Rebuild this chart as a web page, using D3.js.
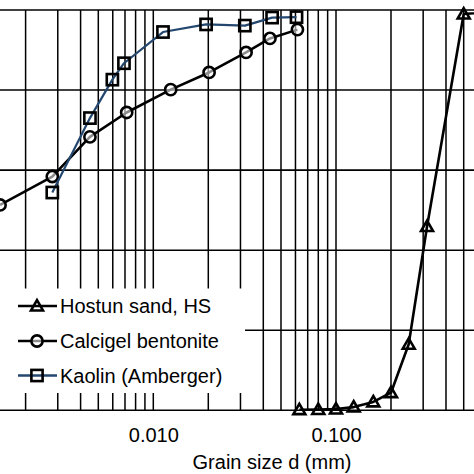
<!DOCTYPE html>
<html><head><meta charset="utf-8">
<script src="https://cdn.jsdelivr.net/npm/d3@7"></script>
<style>
html,body{margin:0;padding:0;background:#fff;overflow:hidden}
svg{display:block}
text{font-family:"Liberation Sans",Arial,sans-serif;fill:#000}
</style></head>
<body>
<svg id="c" width="474" height="474"></svg>
<script>
// ---- data ----
const sandD = [0.063, 0.08, 0.1, 0.125, 0.16, 0.2, 0.25, 0.315, 0.5, 1.0];
const sandP = [0.15, 0.2, 0.3, 0.8, 2.1, 4.4, 16.5, 45.9, 99.0, 100];
const calD  = [0.00145, 0.0028, 0.0045, 0.00715, 0.01245, 0.0202, 0.0322, 0.0435, 0.0615];
const calP  = [51.3, 58.4, 68.3, 74.4, 80.1, 84.4, 89.4, 92.9, 95.1];
const kaoD  = [0.0028, 0.0045, 0.00597, 0.00691, 0.0113, 0.01945, 0.0317, 0.0447, 0.0608];
const kaoP  = [54.4, 73.0, 82.6, 86.7, 94.5, 96.4, 96.1, 98.1, 98.2];
const xTickVals = [0.01, 0.1];
const yGridVals = [0, 20, 40, 60, 80, 100];
const seriesNames = ["Hostun sand, HS", "Calcigel bentonite", "Kaolin (Amberger)"];

const svg = d3.select("#c");
const x = d3.scaleLog().domain([0.001, 1]).range([-29.4, 518.7]);
const y = d3.scaleLinear().domain([0, 100]).range([410.3, 10]);

// vertical grid at every 1..9 x 10^k
const vGrid = [];
[0.001, 0.01, 0.1].forEach(b => { for (let i = 1; i <= 9; i++) vGrid.push(+(b * i).toPrecision(3)); });
vGrid.push(1);

const g = svg.append("g");
g.selectAll("line.v").data(vGrid).join("line")
  .attr("x1", d => x(d)).attr("x2", d => x(d))
  .attr("y1", y(100)).attr("y2", y(0))
  .attr("stroke", "#000").attr("stroke-width", 1.5);
g.selectAll("line.h").data(yGridVals).join("line")
  .attr("x1", x(0.001)).attr("x2", x(1))
  .attr("y1", d => y(d)).attr("y2", d => y(d))
  .attr("stroke", "#000").attr("stroke-width", 1.6);

// x tick labels
const xAxis = d3.axisBottom(x).tickValues(xTickVals).tickFormat(d3.format(".3f")).tickSize(0).tickPadding(0);
const ax = svg.append("g").attr("transform", "translate(0,441.7)").call(xAxis);
ax.select(".domain").remove();
ax.selectAll("text").attr("dy", 0).attr("y", 0)
  .style("font-family", '"Liberation Sans",Arial,sans-serif').style("font-size", "20px").attr("fill", "#000");

svg.append("text").attr("x", 272).attr("y", 469).attr("text-anchor", "middle")
  .style("font-size", "20px").text("Grain size d (mm)");

// legend background box (covers grid)
svg.append("rect").attr("x", -5).attr("y", 288.5).attr("width", 250).attr("height", 104.5).attr("fill", "#fff");

// marker helpers
const tri = d3.symbol().type(d3.symbolTriangle).size(62);
function drawMarker(sel, kind) {
  if (kind === "tri") {
    sel.append("path").attr("d", tri).attr("transform", "translate(0,1)")
      .attr("fill", "none").attr("stroke", "#000").attr("stroke-width", 2.6).attr("stroke-linejoin", "miter");
  } else if (kind === "circ") {
    sel.append("circle").attr("r", 5.6)
      .attr("fill", "rgba(255,255,255,0.55)").attr("stroke", "#000").attr("stroke-width", 2.6);
  } else {
    sel.append("rect").attr("x", -5.6).attr("y", -5.6).attr("width", 11.2).attr("height", 11.2)
      .attr("fill", "none").attr("stroke", "#000").attr("stroke-width", 2.6);
  }
}

const series = [
  {d: calD, p: calP, color: "#000", w: 2.6, kind: "circ"},
  {d: kaoD, p: kaoP, color: "#23476f", w: 2.2, kind: "sq"},
  {d: sandD, p: sandP, color: "#000", w: 2.6, kind: "tri"}
];
const line = d3.line().x(d => x(d[0])).y(d => y(d[1]));
series.forEach(s => {
  const pts = s.d.map((v, i) => [v, s.p[i]]);
  svg.append("path").datum(pts).attr("d", line)
    .attr("fill", "none").attr("stroke", s.color).attr("stroke-width", s.w).attr("stroke-linejoin", "round");
  const m = svg.append("g").selectAll("g").data(pts).join("g")
    .attr("transform", d => `translate(${x(d[0])},${y(d[1])})`);
  drawMarker(m, s.kind);
});

// legend entries
const legKinds = [{kind: "tri", color: "#000"}, {kind: "circ", color: "#000"}, {kind: "sq", color: "#23476f"}];
const legY = [306, 341, 375.5];
seriesNames.forEach((name, i) => {
  const lg = svg.append("g").attr("transform", `translate(0,${legY[i]})`);
  lg.append("line").attr("x1", 18).attr("x2", 57).attr("y1", 0).attr("y2", 0)
    .attr("stroke", legKinds[i].color).attr("stroke-width", 2.6);
  const mk = lg.append("g").attr("transform", "translate(37,0)");
  drawMarker(mk, legKinds[i].kind);
  lg.append("text").attr("x", 60).attr("y", 7).style("font-size", "20px").text(name);
});
</script>
</body></html>
